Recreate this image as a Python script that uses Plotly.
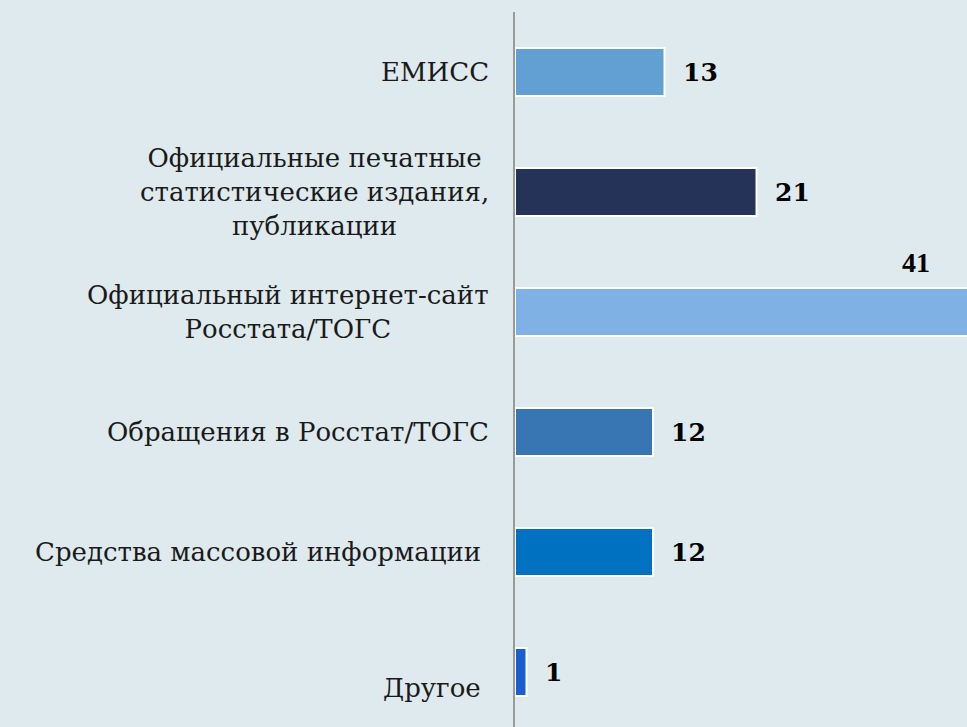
import plotly.graph_objects as go

categories = [
    "ЕМИСС",
    "Официальные печатные<br>статистические издания,<br>публикации",
    "Официальный интернет-сайт<br>Росстата/ТОГС",
    "Обращения в Росстат/ТОГС",
    "Средства массовой информации\u00a0",
    "Другое\u00a0",
]
values = [13, 21, 41, 12, 12, 1]
colors = ["#629fd3", "#243357", "#7fb1e5", "#3876b3", "#0070c0", "#1a5fcb"]

X_MAX = 39.3
BG = "#deeaee"
SERIF = "DejaVu Serif, Liberation Serif, serif"

fig = go.Figure()
fig.add_trace(go.Bar(
    y=list(range(len(categories))),
    x=values,
    orientation="h",
    width=0.4,
    marker=dict(color=colors, line=dict(color="white", width=2)),
    hoverinfo="skip",
))

annotations = []
label_yshift = {5: -16}
for i, (cat, v) in enumerate(zip(categories, values)):
    annotations.append(dict(
        x=0, xref="paper", y=i, yref="y", text=cat, showarrow=False,
        xanchor="right", yanchor="middle", align="center", xshift=-24,
        yshift=label_yshift.get(i, 0),
        font=dict(family=SERIF, size=26, color="#1a1a1a"),
    ))
    if v <= X_MAX:
        annotations.append(dict(
            x=v, xref="x", y=i, yref="y", text=f"<b>{v}</b>", showarrow=False,
            xanchor="left", yanchor="middle", xshift=16,
            font=dict(family=SERIF, size=25, color="black"),
        ))
    else:
        annotations.append(dict(
            x=1, xref="paper", y=i, yref="y", text=f"<b>{v}</b>", showarrow=False,
            xanchor="right", yanchor="middle", xshift=-35, yshift=50,
            font=dict(family="Liberation Serif, serif", size=28, color="black"),
        ))

fig.update_layout(
    width=967, height=727,
    margin=dict(l=515, r=0, t=12, b=0),
    paper_bgcolor=BG, plot_bgcolor=BG,
    showlegend=False,
    annotations=annotations,
    xaxis=dict(range=[0, X_MAX], visible=False, fixedrange=True),
    yaxis=dict(range=[5.458, -0.5], showticklabels=False, showgrid=False,
               zeroline=False, showline=True, linecolor="#9a9a9a", linewidth=2,
               ticks="", fixedrange=True),
)

fig.write_html("out.html", config={"displayModeBar": False})

with open("out.html", encoding="utf-8") as f:
    html = f.read()
html = html.replace("<head>", "<head><style>html,body{margin:0;padding:0;overflow:hidden;}</style>", 1)
with open("out.html", "w", encoding="utf-8") as f:
    f.write(html)
